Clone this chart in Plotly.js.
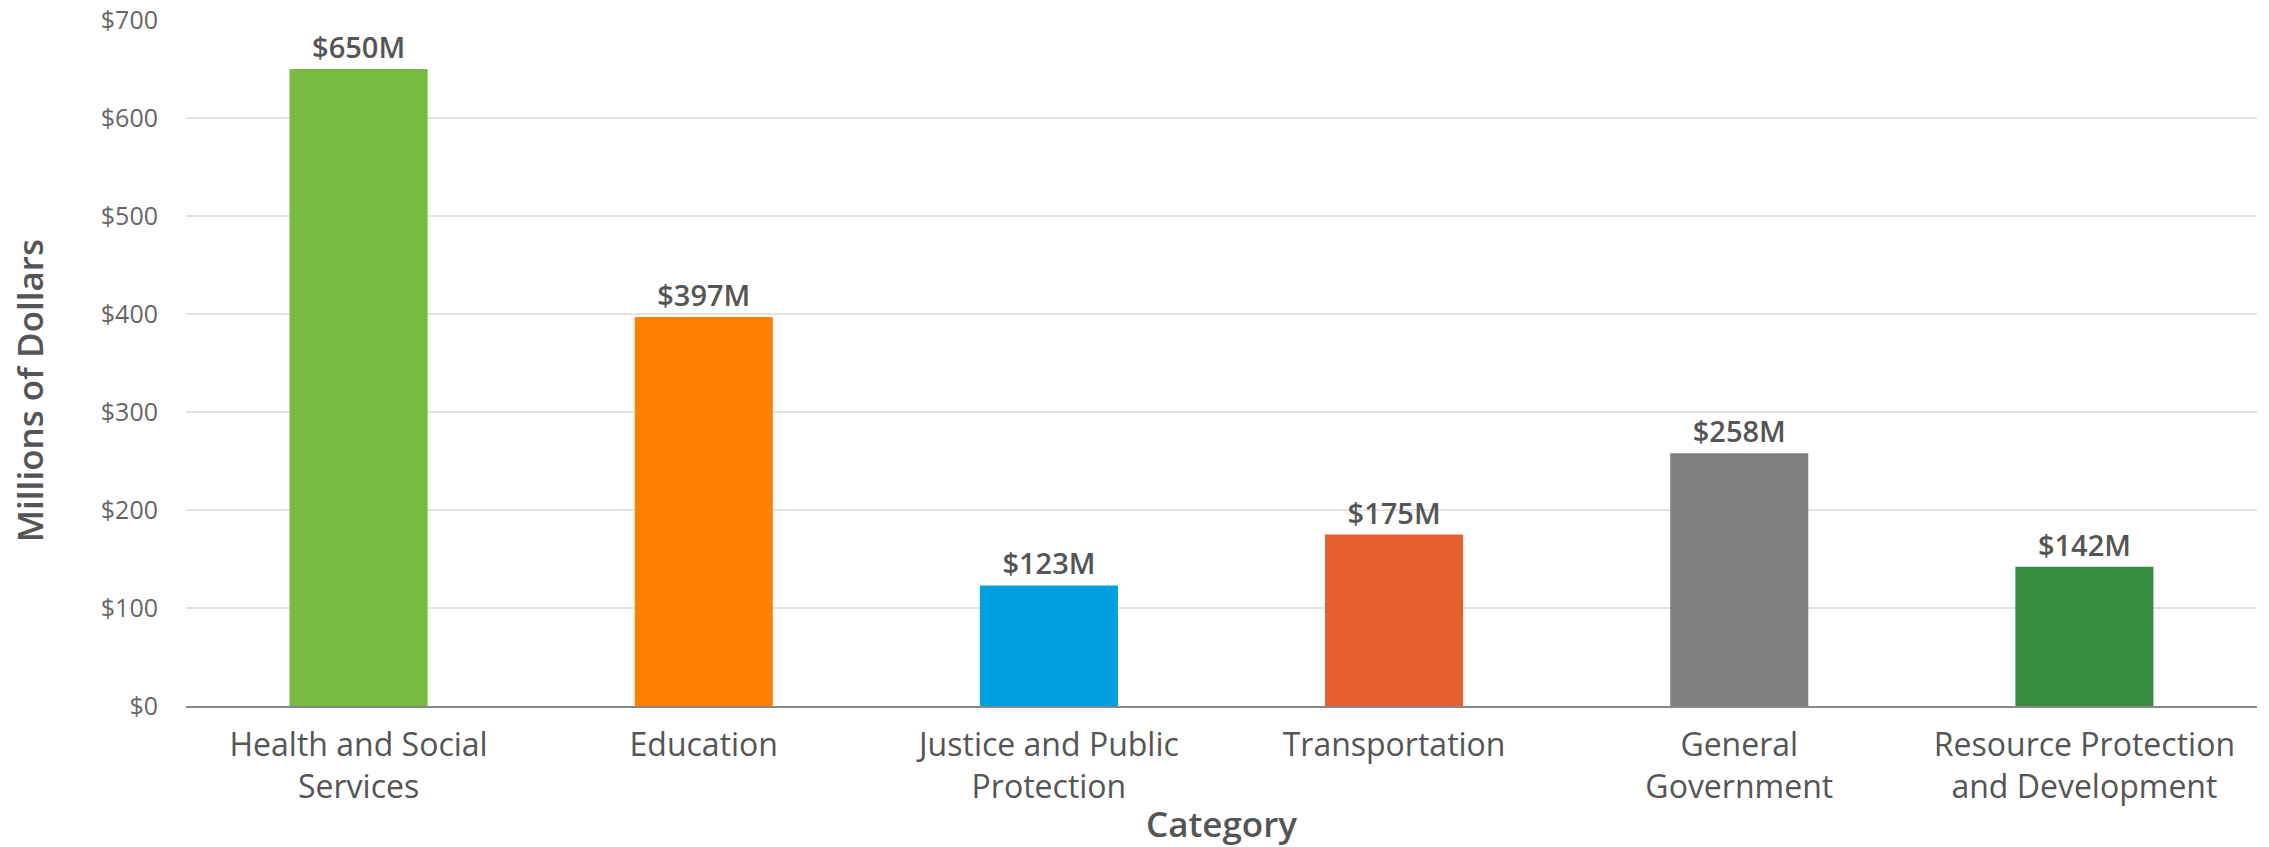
<!DOCTYPE html>
<html>
<head>
<meta charset="utf-8">
<script src="https://cdn.plot.ly/plotly-3.0.1.min.js"></script>
<style>html,body{margin:0;padding:0;background:#fff;}#chart{width:2269px;height:847px;}</style>
</head>
<body>
<div id="chart"></div>
<script>
const categories = ["Health and Social<br>Services", "Education", "Justice and Public<br>Protection", "Transportation", "General<br>Government", "Resource Protection<br>and Development"];
const values = [650, 397, 123, 175, 258, 142];
const valueLabels = ["$650M", "$397M", "$123M", "$175M", "$258M", "$142M"];
const barColors = ["#77bb41", "#ff8000", "#00a0de", "#e55f30", "#808080", "#388c42"];
const yTickVals = [0, 100, 200, 300, 400, 500, 600, 700];
const yTickText = ["$0", "$100", "$200", "$300", "$400", "$500", "$600", "$700"];

const FONT = "'Open Sans', Lato, sans-serif";
const TXT = "#555555";

Plotly.newPlot("chart", [{
  type: "bar",
  x: categories,
  y: values,
  text: valueLabels,
  texttemplate: "%{text}",
  marker: {color: barColors},
  textposition: "outside",
  cliponaxis: false,
  textfont: {family: FONT, size: 29, color: TXT, weight: 600},
  hoverinfo: "none"
}], {
  width: 2269, height: 847,
  margin: {l: 186, r: 12, t: 20, b: 141},
  paper_bgcolor: "#fff", plot_bgcolor: "#fff",
  bargap: 0.6,
  showlegend: false,
  font: {family: FONT, color: TXT},
  xaxis: {
    type: "category",
    tickfont: {family: FONT, size: 32, color: TXT},
    ticks: "outside", ticklen: 10, tickcolor: "rgba(0,0,0,0)",
    showline: true, linecolor: "#888888", linewidth: 2,
    title: {text: "Category", font: {family: FONT, size: 35, color: TXT, weight: 600}, standoff: 11},
    automargin: false
  },
  yaxis: {
    range: [0, 700],
    tickmode: "array",
    tickvals: yTickVals,
    ticktext: yTickText,
    tickfont: {family: FONT, size: 25, color: "#666666"},
    ticks: "outside", ticklen: 22, tickcolor: "rgba(0,0,0,0)",
    showgrid: true, gridcolor: "#e3e3e3", gridwidth: 2,
    zeroline: false,
    automargin: false
  },
  annotations: [{
    text: "Millions of Dollars",
    xref: "paper", yref: "paper",
    x: -0.0758, y: 0.459,
    xanchor: "center", yanchor: "middle",
    textangle: -90,
    showarrow: false,
    font: {family: FONT, size: 35, color: TXT, weight: 600}
  }]
}, {displayModeBar: false, staticPlot: true});
</script>
</body>
</html>
